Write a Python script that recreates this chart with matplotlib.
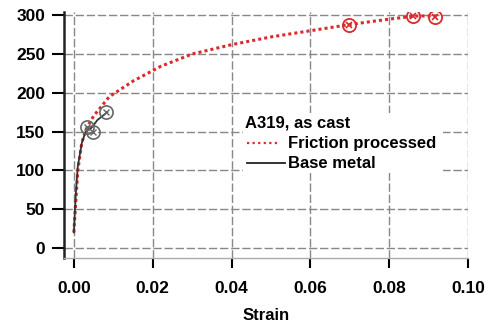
import matplotlib
matplotlib.use("Agg")
import matplotlib.pyplot as plt
from matplotlib.patches import Rectangle

# Friction processed (red dotted) - strain, stress
fp_strain = [0.0, 0.0005, 0.001, 0.002, 0.003, 0.005, 0.009, 0.015, 0.022,
             0.030, 0.040, 0.050, 0.060, 0.070, 0.080, 0.087, 0.092]
fp_stress = [20, 60, 100, 135, 152, 170, 195, 215, 234,
             250, 262, 272, 280, 288, 295, 299, 299]
fp_mark_x = [0.0698, 0.0860, 0.0916]
fp_mark_y = [288, 299, 298]

# Base metal (black line)
bm_strain = [0.0, 0.0005, 0.001, 0.002, 0.003, 0.0045, 0.006, 0.0085]
bm_stress = [20, 70, 105, 135, 150, 155, 165, 175]
bm_mark_x = [0.0033, 0.0048, 0.0081]
bm_mark_y = [156, 150, 175]

xticks = [0.0, 0.02, 0.04, 0.06, 0.08, 0.10]
yticks = [0, 50, 100, 150, 200, 250, 300]

plt.rcParams["font.family"] = ["Liberation Sans", "DejaVu Sans"]
plt.rcParams["font.weight"] = "bold"

fig = plt.figure(figsize=(4.96, 3.27), dpi=100)
ax = fig.add_axes([0.129, 0.211, 0.815, 0.752])

red = "#d92b2b"
ax.plot(fp_strain, fp_stress, color=red, lw=2.2, ls=(0, (1, 1)), zorder=3)
ax.plot(bm_strain, bm_stress, "-", color="#333333", lw=1.3, zorder=3)
ax.plot(fp_mark_x, fp_mark_y, "o", ms=9.5, mfc="none", mec=red, mew=1.3, zorder=4)
ax.plot(fp_mark_x, fp_mark_y, "x", ms=5, color=red, mew=1.2, zorder=4)
ax.plot(bm_mark_x, bm_mark_y, "o", ms=9.5, mfc="none", mec="#666666", mew=1.2, zorder=4)
ax.plot(bm_mark_x, bm_mark_y, "x", ms=5, color="#666666", mew=1.0, zorder=4)

ax.set_xlim(-0.0025, 0.1)
ax.set_ylim(-13, 304)
ax.set_xticks(xticks)
ax.set_xticklabels([f"{v:.2f}" for v in xticks])
ax.set_yticks(yticks)
ax.set_xlabel("Strain", fontsize=12, fontweight="bold", labelpad=9)

ax.grid(True, ls=(0, (6, 2)), color="#888888", lw=1.0)
for s in ["top", "right"]:
    ax.spines[s].set_visible(False)
ax.spines["left"].set_linewidth(1.8)
ax.spines["left"].set_color("#222222")
ax.spines["bottom"].set_linewidth(1.0)
ax.spines["bottom"].set_color("#aaaaaa")
ax.tick_params(axis="y", direction="out", length=8.5, width=1.5, pad=5, labelsize=12.5)
ax.tick_params(axis="x", direction="out", length=7.5, width=1.5, pad=9, labelsize=12.5)

# legend drawn by hand on a white box that hides the grid
ax.add_patch(Rectangle((0.0429, 96), 0.0508, 78, facecolor="white",
                       edgecolor="none", zorder=2))
ax.text(0.0434, 161, "A319, as cast", fontsize=12, fontweight="bold",
        va="center", zorder=5)
ax.plot([0.0439, 0.0523], [135, 135], color=red, lw=1.6, ls=(0, (1, 1.5)), zorder=5)
ax.text(0.0543, 135, "Friction processed", fontsize=12, fontweight="bold",
        va="center", zorder=5)
ax.plot([0.0439, 0.0535], [109, 109], "-", color="#222222", lw=1.3, zorder=5)
ax.text(0.0543, 109, "Base metal", fontsize=12, fontweight="bold",
        va="center", zorder=5)

fig.savefig("out.png", dpi=100)
